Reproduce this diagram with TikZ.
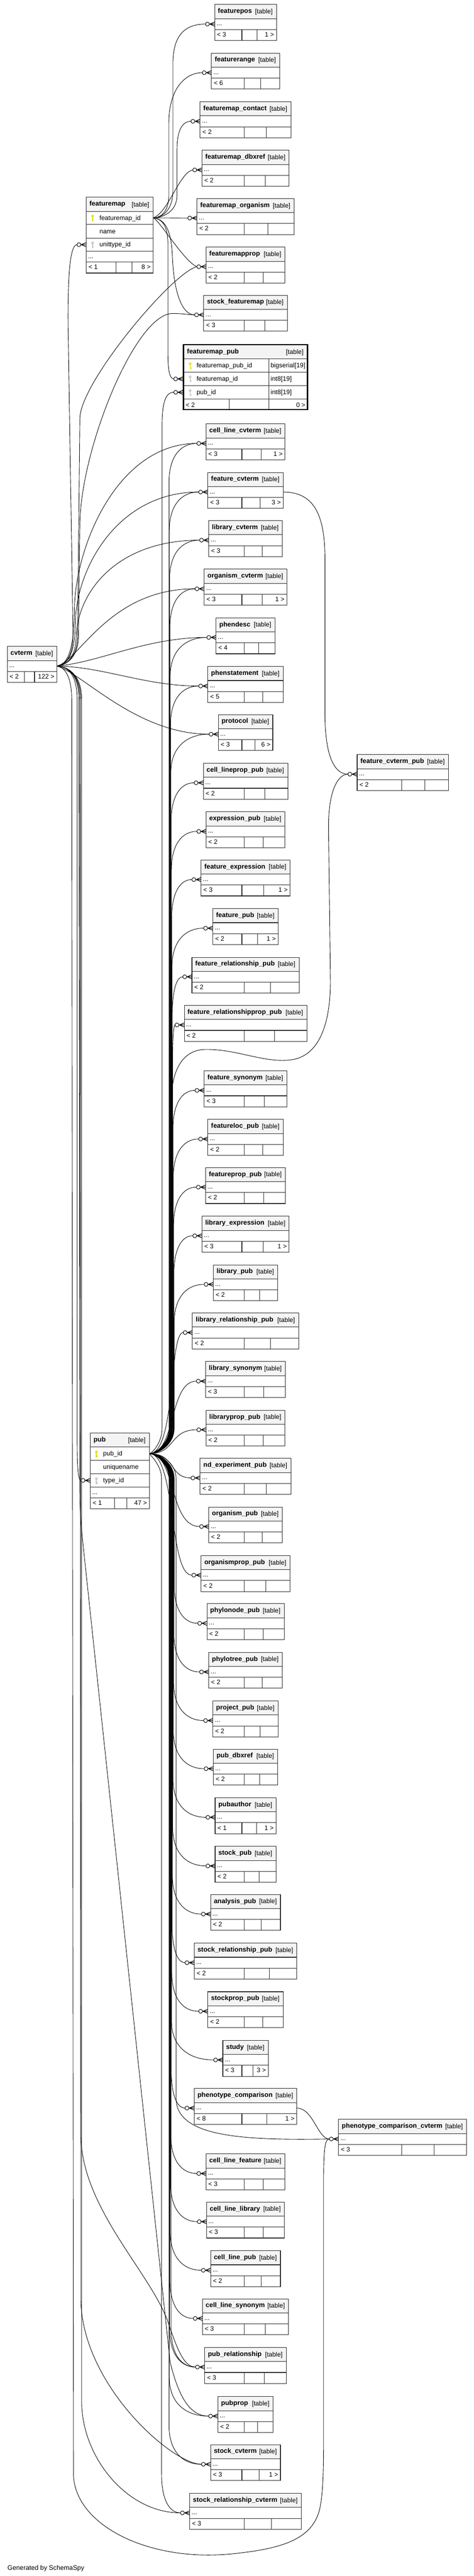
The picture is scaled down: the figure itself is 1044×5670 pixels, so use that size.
\documentclass[tikz,border=0pt]{standalone}
\usepackage{fontspec}
\setmainfont{Liberation Sans}
\usetikzlibrary{calc}
\pgfdeclarelayer{bg}
\pgfsetlayers{bg,main}
\definecolor{hdr}{HTML}{F4F4F4}
\definecolor{pkc}{HTML}{DEDE00}
\definecolor{fkc}{HTML}{C4C4C4}
\definecolor{bline}{HTML}{2B2B2B}
\tikzset{
 boxline/.style={draw=bline, line width=1.2bp},
 conn/.style={draw=black, line width=1bp},
 footln/.style={draw=black, line width=1.3bp},
 tname/.style={anchor=base west, inner sep=0pt, font=\fontsize{14.67bp}{17bp}\selectfont\bfseries},
 ttab/.style={anchor=base east, inner sep=0pt, font=\fontsize{14.2bp}{17bp}\selectfont},
 ttxt/.style={anchor=base west, inner sep=0pt, font=\fontsize{14.2bp}{17bp}\selectfont},
 ttxr/.style={anchor=base east, inner sep=0pt, font=\fontsize{14.2bp}{17bp}\selectfont},
}
\newcommand{\footat}[2]{%
 \draw[footln] ({#1-11.7},#2) -- (#1,#2) ({#1-11},#2) -- (#1,{#2-4.5}) ({#1-11},#2) -- (#1,{#2+4.5});
 \draw[line width=1.1bp, fill=white] ({#1-16},#2) circle (4.3bp);
}
\newcommand{\keyic}[3]{%
 \fill[#1] (#2,{#3+10.5}) circle (2.9bp);
 \fill[#1] ({#2-1.1},{#3+11}) rectangle ({#2+1.1},{#3+22.5});
 \fill[#1] ({#2+1.1},{#3+17}) rectangle ({#2+2.6},{#3+18.5});
 \fill[#1] ({#2+1.1},{#3+20}) rectangle ({#2+2.6},{#3+21.5});
 \fill[white] (#2,{#3+9.8}) circle (0.9bp);
}
% core box: id, x0, x1, ytop, lc, rc, d1, d2
\newcommand{\tbx}[8]{%
 \pgfmathsetmacro\Xa{#2}\pgfmathsetmacro\Xb{#3}%
 \pgfmathsetmacro\Ya{#4}\pgfmathsetmacro\Yh{#4+31}\pgfmathsetmacro\Yr{#4+55}%
 \pgfmathsetmacro\Yb{#4+79}\pgfmathsetmacro\Ym{#4+43}%
 \expandafter\xdef\csname ry@#1\endcsname{\Ym}%
 \fill[white] (\Xa,\Ya) rectangle (\Xb,\Yb);
 \fill[hdr] (\Xa,\Ya) rectangle (\Xb,\Yh);
 \draw[boxline] (\Xa,\Ya) rectangle (\Xb,\Yb) (\Xa,\Yh) -- (\Xb,\Yh) (\Xa,\Yr) -- (\Xb,\Yr)
   (#7,\Yr) -- (#7,\Yb) (#8,\Yr) -- (#8,\Yb);
 \node[tname] (#1) at ({\Xa+7},{\Ya+19}) {\detokenize{#1}};
 \node[ttab] (#1-tag) at ({\Xb-8},{\Ya+20}) {[table]};
 \node[ttxt] (#1-dots) at ({\Xa+4},{\Ya+46.5}) {...};
 \node[ttxt] (#1-lc) at ({\Xa+5},{\Ya+71}) {< #5};
 \def\tmprc{#6}\ifx\tmprc\empty\else\node[ttxr] (#1-rc) at ({\Xb-5},{\Ya+71}) {#6 >};\fi
 \coordinate (#1-in) at (\Xa,\Ym);
 \coordinate (#1-e) at ({\Xa-20.3},\Ym);
 \coordinate (#1-out) at (\Xb,\Ym);
}
% centred column box: id, half width, ytop, lc, rc
\newcommand{\etbl}[5]{%
 \def\tmprcb{#5}%
 \ifx\tmprcb\empty\pgfmathsetmacro\Da{538}\else\pgfmathsetmacro\Da{533}\fi
 \pgfmathsetmacro\Db{\Da+#2/2-1}%
 \pgfmathsetmacro\Ea{541-#2}\pgfmathsetmacro\Eb{541+#2}%
 \tbx{#1}{\Ea}{\Eb}{#3}{#4}{#5}{\Da}{\Db}%
 \footat{\Xa}{\Ym}%
}
% pub trunk connector: id, trunk shift
\newcommand{\pubc}[2]{%
 \edef\Ry{\csname ry@#1\endcsname}%
 \pgfmathsetmacro\Dy{\Ry-3199.5}%
 \pgfmathsetmacro\Tx{386-14*min(1,abs(\Dy)/2300)+#2}%
 \ifdim\Dy pt<0pt
  \pgfmathsetmacro\Pa{3175}\pgfmathsetmacro\Pb{3145}\pgfmathsetmacro\Pc{\Ry+85}\pgfmathsetmacro\Pd{\Ry+30}%
 \else
  \pgfmathsetmacro\Pa{3224}\pgfmathsetmacro\Pb{3254}\pgfmathsetmacro\Pc{\Ry-85}\pgfmathsetmacro\Pd{\Ry-30}%
 \fi
 \draw[conn] (pub-out) .. controls ({\Tx-28},3199.5) and (\Tx,\Pa) .. (\Tx,\Pb) -- (\Tx,\Pc)
   .. controls (\Tx,\Pd) and ($(\Tx,\Ry)!0.4!(#1-e)$) .. (#1-e);
}
\newcommand{\pubnear}[1]{%
 \edef\Ry{\csname ry@#1\endcsname}%
 \draw[conn] (pub-out) .. controls (388,3199.5) and (372,\Ry) .. (#1-e);
}
\begin{document}
\begin{tikzpicture}[x=1bp,y=-1bp]
\useasboundingbox (0,0) rectangle (1044,5670);
\begin{pgfonlayer}{bg}
\fill[white] (0,0) rectangle (1044,5670);
\end{pgfonlayer}

% ---------- featuremap ----------
\fill[white] (190,434) rectangle (337,601);
\fill[hdr] (190,434) rectangle (337,465);
\draw[boxline] (190,434) rectangle (337,601) (190,465) -- (337,465) (190,494) -- (337,494)
  (190,524) -- (337,524) (190,553) -- (337,553) (190,577) -- (337,577)
  (256,577) -- (256,601) (291,577) -- (291,601);
\node[tname] (featuremap) at (197,453) {featuremap};
\node[ttab] (featuremap-tag) at (329,455) {[table]};
\keyic{pkc}{204}{465}
\node[ttxt] (featuremap-r1) at (219,484.5) {featuremap\_id};
\node[ttxt] (featuremap-r2) at (219,514) {name};
\keyic{fkc}{204}{524}
\node[ttxt] (featuremap-r3) at (219,543) {unittype\_id};
\node[ttxt] (featuremap-dots) at (194,569) {...};
\node[ttxt] (featuremap-lc) at (195,593) {< 1};
\node[ttxr] (featuremap-rc) at (332,593) {8 >};
\coordinate (featuremap-out) at (337,479.5);
\coordinate (featuremap-e) at (169.7,538.5);
\footat{190}{538.5}

% ---------- pub ----------
\fill[white] (199,3154) rectangle (329,3321);
\fill[hdr] (199,3154) rectangle (329,3185);
\draw[boxline] (199,3154) rectangle (329,3321) (199,3185) -- (329,3185) (199,3214) -- (329,3214)
  (199,3244) -- (329,3244) (199,3273) -- (329,3273) (199,3297) -- (329,3297)
  (252,3297) -- (252,3321) (280,3297) -- (280,3321);
\node[tname] (pub) at (206,3173) {pub};
\node[ttab] (pub-tag) at (321,3175) {[table]};
\keyic{pkc}{212.5}{3185}
\node[ttxt] (pub-r1) at (227,3204.5) {pub\_id};
\node[ttxt] (pub-r2) at (227,3233.5) {uniquename};
\keyic{fkc}{212.5}{3244}
\node[ttxt] (pub-r3) at (227,3263) {type\_id};
\node[ttxt] (pub-dots) at (203,3289) {...};
\node[ttxt] (pub-lc) at (204,3313) {< 1};
\node[ttxr] (pub-rc) at (324,3313) {47 >};
\coordinate (pub-out) at (329,3199.5);
\coordinate (pub-e) at (178.7,3258.5);
\footat{199}{3258.5}

% ---------- featuremap_pub ----------
\fill[white] (403,757) rectangle (679,903);
\fill[hdr] (403,757) rectangle (679,790);
\draw[boxline] (403,790) -- (679,790) (403,819) -- (679,819) (403,849) -- (679,849)
  (403,878) -- (679,878) (592,790) -- (592,903) (505,878) -- (505,903);
\draw[line width=3bp, draw=black] (404.5,758.5) rectangle (677.5,901.5);
\node[tname] (featuremap_pub) at (412,778) {featuremap\_pub};
\node[ttab] (featuremap_pub-tag) at (669,780) {[table]};
\keyic{pkc}{419}{790}
\node[ttxt] (fmp-r1) at (433,809.5) {featuremap\_pub\_id};
\node[ttxt] (fmp-t1) at (596,809.5) {bigserial[19]};
\keyic{fkc}{419}{819}
\node[ttxt] (fmp-r2) at (433,839) {featuremap\_id};
\node[ttxt] (fmp-t2) at (596,839) {int8[19]};
\keyic{fkc}{419}{849}
\node[ttxt] (fmp-r3) at (433,868.5) {pub\_id};
\node[ttxt] (fmp-t3) at (596,868.5) {int8[19]};
\node[ttxt] (fmp-lc) at (409,896) {< 2};
\node[ttxr] (fmp-rc) at (673,896) {0 >};
\coordinate (featuremap_pub-fe) at (382.7,834);
\coordinate (featuremap_pub-pe) at (382.7,863.5);
\footat{403}{834}
\footat{403}{863.5}

% ---------- cvterm ----------
\tbx{cvterm}{16}{125}{1423}{2}{122}{54}{76}

% ---------- right side ----------
\tbx{feature_cvterm_pub}{787}{988}{1661}{2}{}{885}{936}
\footat{\Xa}{\Ym}
\tbx{phenotype_comparison_cvterm}{746}{1028}{4665}{3}{}{885}{956}
\footat{\Xa}{\Ym}

% ---------- column ----------
\etbl{featurepos}{68}{10}{3}{1}
\etbl{featurerange}{75}{117}{6}{}
\etbl{featuremap_contact}{100}{224}{2}{}
\etbl{featuremap_dbxref}{96}{331}{2}{}
\etbl{featuremap_organism}{107}{437}{2}{}
\etbl{featuremapprop}{87}{544}{2}{}
\etbl{stock_featuremap}{92}{650}{3}{}
\etbl{cell_line_cvterm}{87}{933}{3}{1}
\etbl{feature_cvterm}{83}{1040}{3}{3}
\etbl{library_cvterm}{81}{1146}{3}{}
\etbl{organism_cvterm}{91}{1253}{3}{1}
\etbl{phendesc}{65}{1360}{4}{}
\etbl{phenstatement}{83}{1467}{5}{}
\etbl{protocol}{60}{1573}{3}{6}
\etbl{cell_lineprop_pub}{93}{1680}{2}{}
\etbl{expression_pub}{87}{1787}{2}{}
\etbl{feature_expression}{98}{1893}{3}{1}
\etbl{feature_pub}{72}{2000}{2}{1}
\etbl{feature_relationship_pub}{118}{2107}{2}{}
\etbl{feature_relationshipprop_pub}{135}{2213}{2}{}
\etbl{feature_synonym}{91}{2357}{3}{}
\etbl{featureloc_pub}{83}{2464}{2}{}
\etbl{featureprop_pub}{88}{2570}{2}{}
\etbl{library_expression}{96}{2677}{3}{1}
\etbl{library_pub}{71}{2784}{2}{}
\etbl{library_relationship_pub}{117}{2890}{2}{}
\etbl{library_synonym}{88}{2997}{3}{}
\etbl{libraryprop_pub}{87}{3104}{2}{}
\etbl{nd_experiment_pub}{100}{3210}{2}{}
\etbl{organism_pub}{81}{3317}{2}{}
\etbl{organismprop_pub}{98}{3424}{2}{}
\etbl{phylonode_pub}{85}{3530}{2}{}
\etbl{phylotree_pub}{81}{3637}{2}{}
\etbl{project_pub}{72}{3744}{2}{}
\etbl{pub_dbxref}{71}{3850}{2}{}
\etbl{pubauthor}{67}{3957}{1}{1}
\etbl{stock_pub}{67}{4064}{2}{}
\etbl{analysis_pub}{77}{4170}{2}{}
\etbl{stock_relationship_pub}{113}{4277}{2}{}
\etbl{stockprop_pub}{83}{4384}{2}{}
\etbl{study}{50}{4491}{3}{3}
\etbl{phenotype_comparison}{113}{4597}{8}{1}
\etbl{cell_line_feature}{87}{4741}{3}{}
\etbl{cell_line_library}{86}{4847}{3}{}
\etbl{cell_line_pub}{77}{4954}{2}{}
\etbl{cell_line_synonym}{95}{5060}{3}{}
\etbl{pub_relationship}{90}{5167}{3}{}
\etbl{pubprop}{61}{5275}{2}{}
\etbl{stock_cvterm}{77}{5381}{3}{1}
\etbl{stock_relationship_cvterm}{123}{5488}{3}{}

\node[ttxt, font=\fontsize{14.4bp}{17bp}\selectfont] (gen) at (16.5,5657) {Generated by SchemaSpy};

% ---------- connectors ----------
\begin{pgfonlayer}{bg}
% featuremap children
\draw[conn] (featuremap-out) .. controls (360,479.5) and (381,460) .. (381,420) -- (381,140) .. controls (381,75) and (410,53) .. (featurepos-e);
\draw[conn] (featuremap-out) .. controls (355,479.5) and (372,465) .. (372,430) -- (372,270) .. controls (372,200) and (405,160) .. (featurerange-e);
\draw[conn] (featuremap-out) .. controls (360,479.5) and (390,465) .. (390,430) -- (390,330) .. controls (390,290) and (400,267) .. (featuremap_contact-e);
\draw[conn] (featuremap-out) .. controls (370,470) and (395,380) .. (featuremap_dbxref-e);
\draw[conn] (featuremap-out) -- (featuremap_organism-e);
\draw[conn] (featuremap-out) .. controls (350,482) and (405,575) .. (featuremapprop-e);
\draw[conn] (featuremap-out) .. controls (370,482) and (378,520) .. (380,567) .. controls (383,640) and (400,693) .. (stock_featuremap-e);
\draw[conn] (featuremap-out) .. controls (360,482) and (370,500) .. (370,540) -- (370,780) .. controls (370,815) and (374,834) .. (featuremap_pub-fe);
% cvterm up
\draw[conn] (cvterm-out) .. controls (145,1463) and (160,1445) .. (161,1400) -- (150,720) .. controls (149,600) and (155,538.5) .. (featuremap-e);
\draw[conn] (cvterm-out) .. controls (150,1463) and (170,1445) .. (171,1400) -- (176,920) .. controls (178,840) and (380,600) .. (featuremapprop-e);
\draw[conn] (cvterm-out) .. controls (150,1463) and (172,1445) .. (173,1400) -- (176,1150) .. controls (180,980) and (300,690) .. (380,690) .. controls (405,690) and (415,693) .. (stock_featuremap-e);
\draw[conn] (cvterm-out) .. controls (150,1463) and (163,1430) .. (164,1340) .. controls (166,1200) and (260,976) .. (cell_line_cvterm-e);
\draw[conn] (cvterm-out) .. controls (150,1463) and (165,1440) .. (166,1370) .. controls (168,1250) and (260,1083) .. (feature_cvterm-e);
\draw[conn] (cvterm-out) .. controls (150,1463) and (167,1445) .. (168,1400) .. controls (172,1300) and (260,1189) .. (library_cvterm-e);
\draw[conn] (cvterm-out) .. controls (175,1455) and (240,1296) .. (organism_cvterm-e);
\draw[conn] (cvterm-out) .. controls (220,1458) and (320,1403) .. (phendesc-e);
\draw[conn] (cvterm-out) .. controls (230,1468) and (320,1510) .. (phenstatement-e);
\draw[conn] (cvterm-out) .. controls (180,1480) and (300,1616) .. (protocol-e);
% cvterm down
\draw[conn] (cvterm-out) .. controls (150,1467) and (170,1485) .. (170,1540) -- (170,3170) .. controls (170,3230) and (172,3258.5) .. (pub-e);
\draw[conn] (cvterm-out) .. controls (150,1467) and (174,1485) .. (174,1540) -- (176,3300) .. controls (177,3340) and (180,3370) .. (183,3400) -- (375,5200) .. controls (395,5280) and (420,5318) .. (pubprop-e);
\draw[conn] (cvterm-out) .. controls (150,1467) and (176,1485) .. (176,1540) -- (178,4700) .. controls (180,4860) and (330,5000) .. (370,5110) .. controls (390,5170) and (405,5210) .. (pub_relationship-e);
\draw[conn] (cvterm-out) .. controls (150,1467) and (178,1485) .. (178,1540) -- (178,5060) .. controls (180,5250) and (380,5424) .. (stock_cvterm-e);
\draw[conn] (cvterm-out) .. controls (150,1467) and (180,1485) .. (180,1540) -- (180,5290) .. controls (182,5410) and (280,5531) .. (stock_relationship_cvterm-e);
\draw[conn] (cvterm-out) .. controls (140,1467) and (158,1485) .. (158,1540) -- (162,5450) .. controls (168,5560) and (330,5640) .. (513,5621) .. controls (620,5610) and (690,5590) .. (705,5520) .. controls (713,5480) and (713,5420) .. (713,5350) -- (713,4800) .. controls (713,4730) and (716,4708) .. (phenotype_comparison_cvterm-e);
% other
\draw[conn] (feature_cvterm-out) .. controls (690,1083) and (716,1130) .. (716,1230) -- (716,1570) .. controls (716,1660) and (735,1704) .. (feature_cvterm_pub-e);
\draw[conn] (phenotype_comparison-out) .. controls (690,4640) and (700,4708) .. (phenotype_comparison_cvterm-e);
% pub
\draw[conn] (pub-out) .. controls (335,3199.5) and (357,3175) .. (357,3145) -- (357,940) .. controls (357,885) and (365,863.5) .. (featuremap_pub-pe);
\draw[conn] (pub-out) .. controls (355,3199.5) and (378,3175) .. (378,3145) -- (378,2420) .. controls (378,2360) and (400,2312) .. (450,2310) .. controls (520,2308) and (580,2340) .. (640,2333) .. controls (700,2326) and (728,2260) .. (728,2160) -- (724,1830) .. controls (722,1740) and (745,1704) .. (feature_cvterm_pub-e);
\draw[conn] (pub-out) .. controls (360,3199.5) and (388,3224) .. (388,3254) -- (388,4620) .. controls (390,4700) and (520,4712) .. (phenotype_comparison_cvterm-e);
\pubc{cell_line_cvterm}{0}
\pubc{feature_cvterm}{0}
\pubc{library_cvterm}{0}
\pubc{organism_cvterm}{0}
\pubc{phendesc}{0}
\pubc{phenstatement}{0}
\pubc{protocol}{0}
\pubc{cell_lineprop_pub}{0}
\pubc{expression_pub}{0}
\pubc{feature_expression}{0}
\pubc{feature_pub}{0}
\pubc{feature_relationship_pub}{0}
\pubc{feature_relationshipprop_pub}{0}
\pubc{feature_synonym}{0}
\pubc{featureloc_pub}{0}
\pubc{featureprop_pub}{0}
\pubc{library_expression}{0}
\pubc{library_pub}{0}
\pubnear{library_relationship_pub}
\pubnear{library_synonym}
\pubnear{libraryprop_pub}
\pubnear{nd_experiment_pub}
\pubnear{organism_pub}
\pubnear{organismprop_pub}
\pubc{phylonode_pub}{0}
\pubc{phylotree_pub}{0}
\pubc{project_pub}{0}
\pubc{pub_dbxref}{0}
\pubc{pubauthor}{0}
\pubc{stock_pub}{0}
\pubc{analysis_pub}{0}
\pubc{stock_relationship_pub}{0}
\pubc{stockprop_pub}{0}
\pubc{study}{0}
\pubc{phenotype_comparison}{0}
\pubc{cell_line_feature}{0}
\pubc{cell_line_library}{0}
\pubc{cell_line_pub}{0}
\pubc{cell_line_synonym}{0}
\pubc{pub_relationship}{0}
\pubc{pub_relationship}{3}
\pubc{pubprop}{0}
\pubc{stock_cvterm}{0}
\pubc{stock_relationship_cvterm}{-16}
\end{pgfonlayer}
\end{tikzpicture}
\end{document}
